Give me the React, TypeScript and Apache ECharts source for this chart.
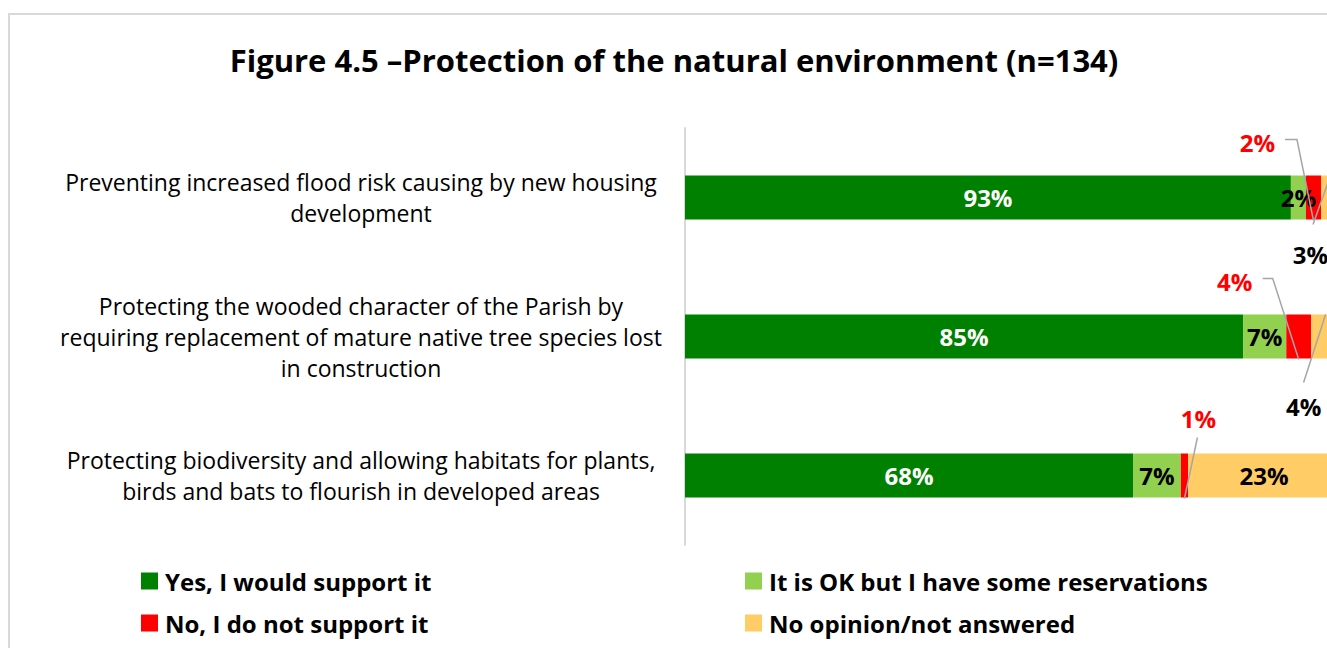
import React, { useEffect, useRef } from 'react';
import * as echarts from 'echarts';

const categories = [
  'Preventing increased flood risk causing by new housing\ndevelopment',
  'Protecting the wooded character of the Parish by\nrequiring replacement of mature native tree species lost\nin construction',
  'Protecting biodiversity and allowing habitats for plants,\nbirds and bats to flourish in developed areas',
];
const seriesNames = [
  'Yes, I would support it',
  'It is OK but I have some reservations',
  'No, I do not support it',
  'No opinion/not answered',
];
const yesValues = [92.5, 85.2, 68.4];
const okValues = [2.3, 6.6, 7.3];
const noValues = [2.3, 3.8, 1.1];
const noOpinionValues = [2.9, 4.4, 23.2];
const titleText = 'Figure 4.5 \u2013Protection of the natural environment (n=134)';

const colors = ['#008000', '#92d050', '#ff0000', '#ffcc66'];
const labelColors = ['#ffffff', '#000000', '#ff0000', '#000000'];
const FONT = '"Open Sans"';

// callout labels: placement offsets and leader lines relative to segment centre
const callouts = [
  { series: 2, row: 0, offset: [-56, -55], line: [[-28.5, -58], [-16.5, -58], [0, 23]] },
  { series: 3, row: 0, offset: [-20, 57], line: [[-17.5, 27], [0, -22]] },
  { series: 2, row: 1, offset: [-64, -55], line: [[-36, -58], [-26, -58], [0, 23]] },
  { series: 3, row: 1, offset: [-22, 70], line: [[-22, 46], [0, -22]] },
  { series: 2, row: 2, offset: [14, -57], line: [[13, -38], [0, 23]] },
];

export default function App() {
  const ref = useRef<HTMLDivElement>(null);
  useEffect(() => {
    if (!ref.current) return;
    const chart = echarts.init(ref.current, undefined, { renderer: 'svg' });
    const stacks = [yesValues, okValues, noValues, noOpinionValues];
    const series = stacks.map((vals, s) => ({
      name: seriesNames[s],
      type: 'bar',
      stack: 'total',
      barWidth: 44,
      itemStyle: { color: colors[s] },
      label: {
        show: true,
        position: 'inside',
        color: labelColors[s],
        fontFamily: FONT,
        fontWeight: 'bold',
        fontSize: 24,
        formatter: (p: any) => Math.round(p.value) + '%',
      },
      data: vals.map((v, row) => {
        const c = callouts.find((k) => k.series === s && k.row === row);
        return c ? { value: v, label: { offset: c.offset } } : v;
      }),
    }));
    const legendBase = {
      orient: 'vertical',
      icon: 'rect',
      padding: 0,
      itemWidth: 17,
      itemHeight: 17,
      itemGap: 12,
      height: 120,
      textStyle: { fontFamily: FONT, fontWeight: 'bold', fontSize: 24, color: '#000', lineHeight: 30, padding: [0, 0, 0, 2] },
    };
    chart.setOption({
      animation: false,
      backgroundColor: '#ffffff',
      title: {
        text: titleText,
        left: 'center',
        top: 39,
        textStyle: { fontFamily: FONT, fontWeight: 'bold', fontSize: 31, color: '#000' },
      },
      legend: [
        { ...legendBase, left: 141, top: 566, data: [seriesNames[0], seriesNames[2]] },
        { ...legendBase, left: 745, top: 566, data: [seriesNames[1], seriesNames[3]] },
      ],
      grid: { left: 685, top: 128, width: 655, height: 417, containLabel: false },
      xAxis: { type: 'value', min: 0, max: 100, show: false },
      yAxis: {
        type: 'category',
        inverse: true,
        data: categories,
        axisLine: { show: true, lineStyle: { color: '#d9d9d9', width: 2 } },
        axisTick: { show: false },
        axisLabel: {
          align: 'center',
          margin: 324,
          fontFamily: FONT,
          fontSize: 23,
          lineHeight: 31,
          color: '#000',
        },
      },
      series,
    });
    const elements: any[] = [
      {
        type: 'rect',
        silent: true,
        z: -1,
        shape: { x: 9, y: 14, width: 2000, height: 2000 },
        style: { fill: 'none', stroke: '#d9d9d9', lineWidth: 2 },
      },
    ];
    callouts.forEach((c, i) => {
      let start = 0;
      for (let k = 0; k < c.series; k++) start += stacks[k][c.row];
      const mid = start + stacks[c.series][c.row] / 2;
      const [px, py] = chart.convertToPixel({ gridIndex: 0 }, [mid, c.row]) as number[];
      elements.push({
        type: 'polyline',
        id: 'leader' + i,
        silent: true,
        z: 100,
        shape: { points: c.line.map(([dx, dy]) => [px + dx, py + dy]) },
        style: { stroke: '#a6a6a6', lineWidth: 1.5, fill: null },
      });
    });
    chart.setOption({ graphic: { elements } });
    return () => chart.dispose();
  }, []);
  return (
    <div style={{ position: 'fixed', left: 0, top: 0, width: 1327, height: 648, overflow: 'hidden', background: '#fff' }}>
      <div ref={ref} style={{ width: 1348, height: 648 }} />
    </div>
  );
}
